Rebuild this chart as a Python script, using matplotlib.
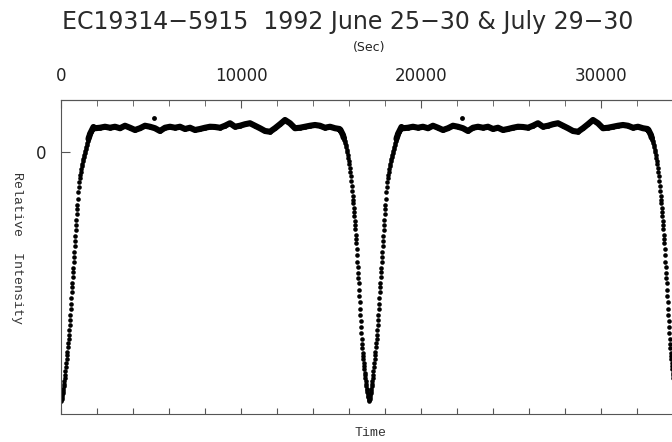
import numpy as np
import matplotlib.pyplot as plt
from matplotlib.ticker import MultipleLocator

# folded light curve, one cycle from minimum to minimum, plotted twice
PERIOD = 17110  # sec

egress_t = [0, 17, 33, 56, 72, 89, 111, 128, 144, 167,
            183, 200, 222, 244, 267, 289, 311, 333, 356, 378,
            400, 422, 444, 461, 478, 500, 517, 533, 556, 578,
            594, 611, 633, 650, 667, 689, 706, 722, 744, 761,
            778, 800, 817, 833, 856, 872, 889, 917, 944, 972,
            1000, 1028, 1056, 1083, 1111, 1139, 1167, 1194, 1222, 1250,
            1278, 1306, 1333, 1361, 1389, 1417, 1444, 1472, 1500, 1528,
            1556, 1583, 1611, 1639, 1667, 1694, 1722, 1750, 1778]
egress_i = [-0.996, -0.988, -0.980, -0.972, -0.964, -0.956, -0.948, -0.936, -0.928, -0.916,
            -0.904, -0.892, -0.876, -0.860, -0.844, -0.828, -0.812, -0.800, -0.780, -0.764,
            -0.748, -0.732, -0.712, -0.692, -0.672, -0.652, -0.628, -0.608, -0.584, -0.560,
            -0.540, -0.524, -0.500, -0.480, -0.464, -0.440, -0.420, -0.400, -0.376, -0.356,
            -0.336, -0.312, -0.292, -0.272, -0.248, -0.228, -0.212, -0.188, -0.160, -0.140,
            -0.120, -0.104, -0.092, -0.080, -0.068, -0.056, -0.048, -0.036, -0.028, -0.020,
            -0.012, -0.004, 0.004, 0.012, 0.020, 0.028, 0.036, 0.044, 0.052, 0.060,
            0.064, 0.072, 0.076, 0.080, 0.084, 0.088, 0.092, 0.096, 0.100]

plateau_t = [1861, 2139, 2417, 2694, 2972, 3250, 3528, 3806, 4083, 4361,
             4639, 4917, 5194, 5472, 5750, 6028, 6306, 6583, 6861, 7139,
             7417, 7694, 7972, 8250, 8528, 8806, 9083, 9361, 9639, 9917,
             10194, 10472, 10750, 11028, 11306, 11583, 11861, 12139, 12417, 12694,
             12972, 13250, 13528, 13806, 14083, 14361, 14639, 14917, 15194]
plateau_i = [0.095, 0.097, 0.101, 0.097, 0.101, 0.095, 0.105, 0.097, 0.088, 0.095,
             0.105, 0.101, 0.095, 0.084, 0.097, 0.101, 0.097, 0.101, 0.092, 0.097,
             0.088, 0.092, 0.097, 0.101, 0.100, 0.097, 0.105, 0.115, 0.101, 0.105,
             0.111, 0.115, 0.105, 0.095, 0.084, 0.081, 0.095, 0.111, 0.128, 0.115,
             0.095, 0.097, 0.101, 0.105, 0.108, 0.105, 0.097, 0.101, 0.095]

ingress_t = [15443, 15471, 15499, 15527, 15554, 15582, 15610, 15638, 15666, 15693,
             15721, 15749, 15777, 15804, 15832, 15860, 15888, 15915, 15943, 15971,
             15999, 16027, 16054, 16082, 16110, 16138, 16165, 16188, 16204, 16221,
             16243, 16260, 16277, 16299, 16316, 16332, 16354, 16371, 16388, 16404,
             16427, 16443, 16460, 16482, 16499, 16516, 16538, 16554, 16571, 16593,
             16610, 16627, 16649, 16666, 16688, 16704, 16721, 16743, 16760, 16777,
             16799, 16816, 16832, 16854, 16871, 16888, 16910, 16927, 16943, 16966,
             16982, 16999, 17021, 17038, 17054, 17077, 17093]
ingress_i = [0.092, 0.088, 0.088, 0.084, 0.080, 0.076, 0.072, 0.068, 0.060, 0.056,
             0.048, 0.044, 0.036, 0.028, 0.020, 0.008, 0.000, -0.012, -0.024, -0.036,
             -0.048, -0.064, -0.080, -0.096, -0.116, -0.136, -0.156, -0.176, -0.192, -0.204,
             -0.224, -0.240, -0.256, -0.276, -0.292, -0.308, -0.332, -0.348, -0.364, -0.388,
             -0.412, -0.440, -0.460, -0.484, -0.504, -0.524, -0.552, -0.576, -0.600, -0.628,
             -0.652, -0.676, -0.700, -0.724, -0.748, -0.768, -0.784, -0.804, -0.816, -0.828,
             -0.844, -0.856, -0.868, -0.884, -0.892, -0.904, -0.916, -0.928, -0.936, -0.948,
             -0.952, -0.960, -0.968, -0.976, -0.980, -0.988, -0.992]

spike_t = [5160]
spike_i = [0.137]

top_ticks = [0, 10000, 20000, 30000]

fig = plt.figure(figsize=(6.72, 4.42), dpi=100)
ax = fig.add_axes([0.0915, 0.0633, 0.9085, 0.7105])

t = np.concatenate([egress_t, plateau_t, ingress_t])
inten = np.concatenate([egress_i, plateau_i, ingress_i])
upper = inten > 0.05

for k in range(2):
    off = k * PERIOD
    ax.plot(t[upper] + off, inten[upper], color="black", lw=4.4,
            solid_joinstyle="round", solid_capstyle="round")
    ax.plot(t + off, inten, "o", color="black", ms=3.3, mew=0)
    ax.plot(np.array(spike_t) + off, spike_i, "o", color="black", ms=3.5, mew=0)

ax.set_xlim(0, 33917)
ax.set_ylim(-1.048, 0.208)

spine_col = "#555555"
for s in ["left", "bottom", "top"]:
    ax.spines[s].set_color(spine_col)
ax.spines["right"].set_visible(False)

ax.xaxis.set_major_locator(MultipleLocator(2000))
ax.tick_params(axis="x", direction="in", length=4, color=spine_col,
               labelbottom=False)
ax.set_yticks([0])
ax.set_yticklabels(["0"])
ax.tick_params(axis="y", direction="in", length=6.5, color=spine_col,
               labelsize=12, pad=11, labelcolor="#222222")

sec = ax.secondary_xaxis("top")
sec.set_xticks(top_ticks)
sec.set_xticklabels([str(v) for v in top_ticks])
sec.xaxis.set_minor_locator(MultipleLocator(2000))
sec.tick_params(which="major", direction="in", length=5.5, color=spine_col,
                labelsize=12, pad=11, labelcolor="#222222")
sec.tick_params(which="minor", direction="in", length=4, color=spine_col)
sec.spines["top"].set_color(spine_col)

fig.text(348 / 672, 1 - 22 / 442, "EC19314\u22125915  1992 June 25\u221230 & July 29\u221230",
         ha="center", va="center", fontsize=17, color="#2a2a2a")
fig.text(369 / 672, 1 - 48 / 442, "(Sec)", ha="center", va="center",
         fontsize=9, color="#222222")
fig.text(17 / 672, 1 - 248 / 442, "Relative  Intensity", rotation=270,
         ha="center", va="center", fontsize=9.5, family="Liberation Mono",
         color="#333333")
fig.text(370 / 672, 1 - 433 / 442, "Time", ha="center", va="center",
         fontsize=9.5, family="Liberation Mono", color="#333333")

fig.savefig("out.png", dpi=100, facecolor="white")
